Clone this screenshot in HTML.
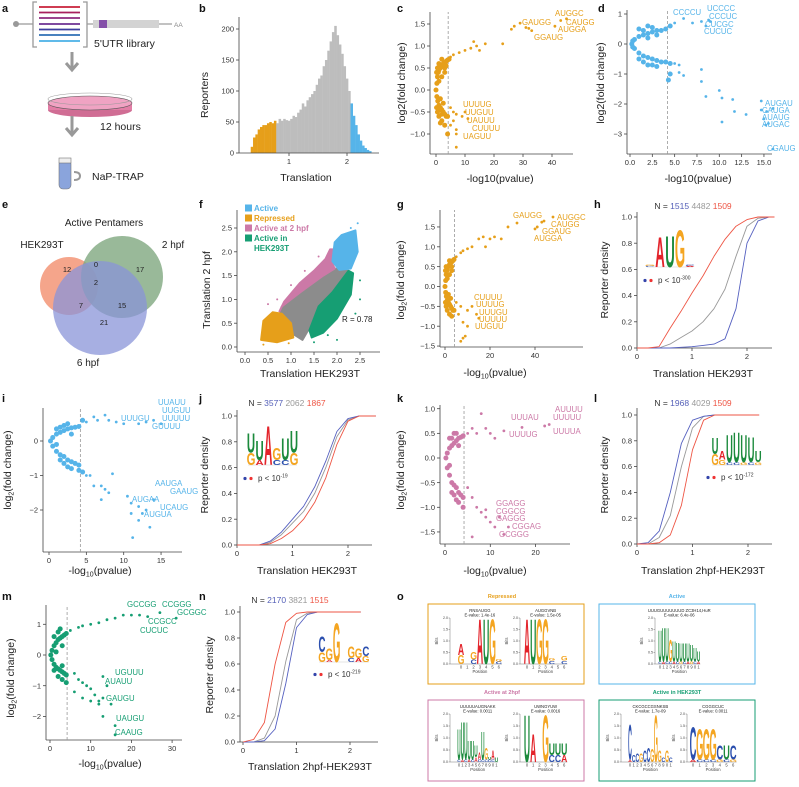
<!DOCTYPE html>
<html><head><meta charset="utf-8">
<style>
html,body{margin:0;padding:0;background:#fff;}
svg{display:block;font-family:"Liberation Sans",Arial,sans-serif;}
</style></head>
<body>
<svg id="fig" width="799" height="787" viewBox="0 0 799 787" xmlns="http://www.w3.org/2000/svg">
<!-- panel letters -->
<g font-weight="bold" font-size="11" fill="#111">
<text x="2" y="12">a</text>
<text x="199" y="12">b</text>
<text x="397" y="12">c</text>
<text x="598" y="12">d</text>
<text x="2" y="208">e</text>
<text x="199" y="208">f</text>
<text x="397" y="208">g</text>
<text x="594" y="208">h</text>
<text x="2" y="402">i</text>
<text x="199" y="402">j</text>
<text x="397" y="402">k</text>
<text x="594" y="402">l</text>
<text x="2" y="600">m</text>
<text x="199" y="600">n</text>
<text x="397" y="600">o</text>
</g>

<!-- panel a: schematic -->
<g>
  <line x1="16" y1="24" x2="33" y2="24" stroke="#999" stroke-width="1.2"/>
  <circle cx="16" cy="24" r="3" fill="#999"/>
  <path d="M37 2 H33 V47 H37 M83 2 H87 V47 H83" fill="none" stroke="#999" stroke-width="1.3"/>
  <g stroke-width="1.8">
    <line x1="39" y1="7" x2="80" y2="7" stroke="#c8203a"/>
    <line x1="39" y1="12.5" x2="80" y2="12.5" stroke="#a8205e"/>
    <line x1="39" y1="18" x2="80" y2="18" stroke="#8e2a7e"/>
    <line x1="39" y1="24" x2="80" y2="24" stroke="#6d3192"/>
    <line x1="39" y1="29.5" x2="80" y2="29.5" stroke="#3d3f9e"/>
    <line x1="39" y1="35" x2="80" y2="35" stroke="#2f6fb4"/>
    <line x1="39" y1="41" x2="80" y2="41" stroke="#4ab0e6"/>
  </g>
  <line x1="87" y1="24" x2="93" y2="24" stroke="#999" stroke-width="1.2"/>
  <rect x="93" y="20" width="66" height="8" fill="#d3d3d3"/>
  <rect x="99" y="20" width="8" height="8" fill="#8450a8"/>
  <line x1="159" y1="24" x2="172" y2="24" stroke="#999" stroke-width="1.2"/>
  <text x="174" y="27" font-size="6.5" fill="#888">AA</text>
  <text x="94" y="47" font-size="10.5" fill="#222">5'UTR library</text>
  <path d="M72 52 V68 M66 63 L72 70 L78 63" fill="none" stroke="#999" stroke-width="3"/>
  <g>
    <ellipse cx="90" cy="110" rx="42" ry="7" fill="#d06d94"/>
    <rect x="48" y="103" width="84" height="7" fill="#e27ea6"/>
    <ellipse cx="90" cy="103" rx="42" ry="7" fill="#f0a3c3" stroke="#555" stroke-width="0.6"/>
    <ellipse cx="90" cy="99" rx="42" ry="6" fill="none" stroke="#999" stroke-width="0.6"/>
  </g>
  <path d="M72 116 V133 M66 128 L72 135 L78 128" fill="none" stroke="#999" stroke-width="3"/>
  <text x="100" y="130" font-size="10.5" fill="#222">12 hours</text>
  <g>
    <rect x="59" y="160" width="12" height="29" rx="4" fill="#8aa4dc" stroke="#777" stroke-width="0.6"/>
    <rect x="59" y="158" width="12" height="5" fill="#eee" stroke="#777" stroke-width="0.6"/>
    <path d="M74 172 q6 0 6 4 q0 4 -6 4" fill="none" stroke="#999" stroke-width="2"/>
  </g>
  <text x="92" y="180" font-size="10.5" fill="#222">NaP-TRAP</text>
</g>

<!-- panel e: Venn -->
<g>
  <text x="104" y="226" font-size="10" text-anchor="middle" fill="#222">Active Pentamers</text>
  <text x="42" y="248" font-size="10" text-anchor="middle" fill="#222">HEK293T</text>
  <text x="173" y="248" font-size="10" text-anchor="middle" fill="#222">2 hpf</text>
  <text x="88" y="366" font-size="10" text-anchor="middle" fill="#222">6 hpf</text>
  <circle cx="69" cy="286" r="29" fill="#f28f6e" fill-opacity="0.8"/>
  <circle cx="122" cy="277" r="41" fill="#7fa87f" fill-opacity="0.8"/>
  <circle cx="100" cy="308" r="47" fill="#8a94d8" fill-opacity="0.75"/>
  <g font-size="7.5" fill="#222" text-anchor="middle">
    <text x="67" y="272">12</text><text x="96" y="267">0</text><text x="140" y="272">17</text>
    <text x="96" y="285">2</text><text x="81" y="308">7</text><text x="122" y="308">15</text><text x="104" y="325">21</text>
  </g>
</g>

<!-- panel o: motif boxes -->
<g font-size="5.5" font-weight="bold" text-anchor="middle">
  <text x="502" y="598" fill="#e69f1a">Repressed</text>
  <rect x="428" y="604" width="156" height="80" fill="none" stroke="#e69f1a" stroke-width="1"/>
  <text x="677" y="598" fill="#56b4e9">Active</text>
  <rect x="599" y="604" width="156" height="80" fill="none" stroke="#56b4e9" stroke-width="1"/>
  <text x="502" y="694" fill="#cc79a7">Active at 2hpf</text>
  <rect x="428" y="700" width="156" height="81" fill="none" stroke="#cc79a7" stroke-width="1"/>
  <text x="677" y="694" fill="#169e73">Active in HEK293T</text>
  <rect x="599" y="700" width="156" height="81" fill="none" stroke="#169e73" stroke-width="1"/>
</g>
</svg>

<script>
// ---------------- DATA ----------------
// histogram b (bin start 0.34, width 0.04)
const histStart = 0.34;
const histWidth = 0.04;
const histCounts = [10,25,30,38,42,45,45,48,50,48,52,48,55,52,55,53,52,55,60,58,65,70,80,75,85,90,95,100,110,120,125,140,150,165,180,195,205,190,175,160,140,120,100,80,60,45,30,20,12,8,5,3];
const histOrangeEnd = 0.76;
const histBlueStart = 2.05;

// volcano panels [x=-log10 p, y=log2 FC]
const cPoints = [[0,0],[0.3,0.15],[0.5,0.3],[0.8,0.4],[1,0.45],[1.5,0.5],[2,0.55],[2.5,0.6],[3,0.62],[3.5,0.65],[4,0.68],[4.5,0.7],[0.3,-0.15],[0.6,-0.25],[1,-0.35],[1.5,-0.4],[2,-0.45],[2.5,-0.5],[3,-0.55],[3.5,-0.6],[4,-0.6],[1,-0.6],[2,-0.7],[3,-0.8],[1.5,-0.75],[0.5,-0.5],[0.5,0.5],[1,0.2],[2,0.3],[3,0.4],[1.5,-0.2],[2.5,-0.3],[0.2,0.4],[0.2,-0.4],[1,0.6],[2,0.7],[3,0.5],[2,-0.55],[1,-0.45],[3.5,0.55],
[5,0.75],[6,0.8],[8,0.85],[10,0.9],[12,0.95],[14,1.0],[15,0.9],[17,1.05],[13,1.1],[23,1.05],[26,1.38],[27,1.45],[29,1.52],[31,1.42],[32,1.4],[33,1.35],[41,1.45],[43,1.58],[45,1.62],[5,-0.4],[6,-0.5],[7,-0.55],[9,-0.6],[11,-0.65],[10,-0.5],[6,-0.7],[7,-0.9],[7,-1.0],[4,-1.0],[7,-1.3],[5,-0.8]];
const dPoints = [[0.2,0],[0.5,0.15],[1,0.25],[1.5,0.3],[2,0.35],[2.5,0.4],[3,0.45],[3.5,0.45],[4,0.5],[0.5,-0.15],[1,-0.3],[1.5,-0.4],[2,-0.45],[2.5,-0.5],[3,-0.55],[3.5,-0.6],[4,-0.6],[1,0.5],[2,0.6],[1,-0.5],[2,-0.7],[3,-0.75],[0.3,0.1],[0.3,-0.1],[2,0.2],[3,0.3],[1.5,0.45],[2.5,0.55],[1.5,-0.6],[2.5,-0.7],
[4.5,0.6],[5,0.7],[6,0.85],[7,0.7],[8,0.75],[8.8,0.8],[9,0.75],[8.5,0.6],[4.5,-0.65],[5,-0.65],[5.5,-0.7],[4.5,-1.0],[4.3,-1.2],[5.5,-0.95],[6,-1.05],[8,-0.85],[8,-1.25],[8.5,-1.75],[10,-1.55],[10.3,-1.8],[11.5,-1.85],[11.7,-2.25],[13,-2.35],[10.3,-2.6],[14.7,-1.9],[14.7,-2.2],[15,-2.5],[15.3,-2.25],[15.5,-2.65],[16,-2.15],[15.2,-2.7],[16,-3.5]];
const gPoints = [[0,0],[0.3,0.15],[0.5,0.3],[0.8,0.4],[1,0.45],[1.5,0.5],[2,0.55],[2.5,0.6],[3,0.62],[3.5,0.65],[4,0.68],[0.3,-0.15],[0.6,-0.25],[1,-0.35],[1.5,-0.4],[2,-0.45],[2.5,-0.5],[3,-0.55],[3.5,-0.6],[4,-0.6],[1,-0.6],[2,-0.7],[3,-0.75],[0.5,-0.5],[0.5,0.5],[1,0.2],[2,0.3],[3,0.4],[1.5,-0.2],[2.5,-0.3],[0.2,0.4],[0.2,-0.4],[2,0.65],[3,0.5],
[5,0.75],[7,0.85],[8,0.9],[10,0.95],[12,1.0],[15,1.2],[17,1.25],[18,1.0],[20,1.2],[22,1.25],[25,1.2],[28,1.5],[32,1.6],[40,1.45],[41,1.5],[43,1.62],[44,1.65],[48,1.75],[5,-0.4],[7,-0.5],[10,-0.6],[12,-0.5],[14,-0.7],[15,-0.8],[8,-0.9],[10,-1.0],[9,-1.25],[8,-1.3],[7,-1.38],[6,-0.7]];
const iPoints = [[0.2,0],[0.5,0.1],[1,0.2],[1.5,0.25],[2,0.3],[2.5,0.35],[3,0.38],[3.5,0.4],[4,0.42],[0.5,-0.15],[1,-0.3],[1.5,-0.4],[2,-0.45],[2.5,-0.55],[3,-0.6],[3.5,-0.65],[4,-0.7],[1,0.35],[2,0.45],[2,-0.65],[3,-0.8],[4,-0.85],[3,0.2],[1,-0.1],[1.5,0.4],[2.5,0.5],[1.5,-0.55],[2.5,-0.75],
[4.5,0.6],[5,0.55],[6,0.7],[6.5,0.6],[7.5,0.75],[8,0.6],[9,0.55],[10,0.5],[12,0.5],[13,0.55],[14,0.6],[15,0.5],[4.5,-0.9],[5,-1.0],[5.5,-1.0],[6,-1.3],[7,-1.3],[7.5,-1.4],[8,-1.5],[8.5,-0.95],[7,-1.7],[10.5,-1.6],[11,-1.8],[12,-1.9],[12.5,-2.1],[13,-2.0],[12,-2.3],[13.5,-2.5],[14,-1.7],[11.2,-2.8],[11,-2.1]];
const kPoints = [[0.2,0],[0.5,0.1],[1,0.2],[1.5,0.25],[2,0.3],[2.5,0.35],[3,0.4],[3.5,0.42],[4,0.45],[0.5,-0.2],[1,-0.35],[1.5,-0.5],[2,-0.55],[2.5,-0.6],[3,-0.7],[3.5,-0.75],[4,-0.8],[1,0.4],[2,0.5],[2,-0.75],[3,-0.9],[4,-1.0],[3,0.25],[1,-0.15],[1.5,-0.7],[2.5,-0.85],[1.5,0.4],[2.5,0.5],
[5,0.5],[6,0.6],[7,0.5],[8,0.9],[9,0.6],[10,0.5],[11,0.4],[13,0.55],[17,0.62],[22,0.65],[23,0.68],[5,-0.6],[6,-0.8],[7,-1.0],[8,-1.1],[9,-1.2],[10,-1.3],[11,-1.4],[12,-1.2],[14,-1.4],[13,-1.55],[6,-1.6],[9,-1.05]];
const mPoints = [[0.2,0],[0.5,0.15],[1,0.3],[1.5,0.4],[2,0.5],[2.5,0.55],[3,0.6],[3.5,0.65],[4,0.7],[0.5,-0.15],[1,-0.3],[1.5,-0.4],[2,-0.45],[2.5,-0.5],[3,-0.55],[3.5,-0.6],[4,-0.65],[1,0.6],[2,0.75],[2,-0.7],[3,-0.8],[4,-0.9],[3,0.3],[1,-0.5],[2.5,0.85],[1.5,0.1],[3,-0.35],
[5,0.8],[7,0.9],[8,0.95],[10,1.0],[12,1.05],[14,1.15],[16,1.2],[18,1.3],[20,1.3],[22,1.3],[24,1.25],[27,1.38],[31,1.2],[6,-0.6],[7,-0.8],[8,-0.9],[9,-1.0],[10,-1.1],[11,-1.3],[12,-1.5],[13,-1.4],[14,-1.0],[6,-1.2],[8,-1.4],[10,-1.5],[13,-0.7],[13,-2.0],[16,-2.3],[16,-2.6],[12,-1.6],[15,-1.6]];

// scatter f regions (translation HEK293T, translation 2 hpf)
const fGray = [[0.75,0.6],[0.8,0.85],[1.2,1.15],[1.7,1.5],[1.95,1.65],[2.25,1.6],[1.9,1.15],[1.6,0.85],[1.4,0.4],[1.25,0.15],[1.0,0.3],[0.9,0.45]];
const fPink = [[0.75,0.75],[0.85,0.95],[1.2,1.35],[1.5,1.6],[1.75,1.85],[1.85,2.05],[1.95,2.05],[1.9,1.75],[1.95,1.65],[1.7,1.5],[1.2,1.15],[0.8,0.85]];
const fBlue = [[1.9,1.8],[1.95,2.2],[2.1,2.35],[2.4,2.45],[2.45,2.0],[2.3,1.65],[2.05,1.62]];
const fGreen = [[1.4,0.35],[1.6,0.85],[1.9,1.15],[2.25,1.6],[2.35,1.55],[2.3,1.1],[2.0,0.6],[1.7,0.3],[1.45,0.2]];
const fOrange = [[0.35,0.15],[0.4,0.55],[0.6,0.73],[0.8,0.7],[1.0,0.5],[1.05,0.2],[0.7,0.1]];
const fExtraPoints = [[0.5,0.9],[0.7,1.0],[1.0,1.3],[1.3,1.6],[1.6,1.9],[2.3,2.5],[2.45,2.6],[2.5,1.4],[2.5,1.0],[2.4,0.7],[2.0,0.15],[1.8,0.25],[1.5,0.1],[0.4,0.05],[0.95,0.08]];

// CDF panels
const cdfXh = [0,0.2,0.4,0.6,0.8,1.0,1.2,1.4,1.6,1.8,2.0,2.2,2.4,2.5];
const hRed  = [0,0,0.01,0.15,0.28,0.42,0.55,0.7,0.83,0.93,0.98,1,1,1];
const hGray = [0,0,0,0.03,0.08,0.13,0.2,0.3,0.45,0.7,0.93,0.99,1,1];
const hBlue = [0,0,0,0,0.005,0.01,0.02,0.03,0.07,0.3,0.8,0.97,1,1];
const jBlue = [0,0,0,0.03,0.1,0.2,0.3,0.45,0.65,0.88,0.98,1,1,1];
const jGray = [0,0,0,0.02,0.08,0.17,0.26,0.4,0.6,0.84,0.97,1,1,1];
const jRed  = [0,0,0,0.01,0.05,0.11,0.2,0.33,0.52,0.78,0.96,1,1,1];
const cdfXl = [0,0.2,0.4,0.6,0.8,1.0,1.2,1.4,1.6,2.2];
const lBlue = [0,0.01,0.1,0.4,0.78,0.96,0.99,1,1,1];
const lGray = [0,0,0.05,0.22,0.6,0.9,0.99,1,1,1];
const lRed  = [0,0,0.01,0.07,0.3,0.73,0.96,1,1,1];
const nRed  = [0,0.02,0.15,0.6,0.92,0.99,1,1,1,1];
const nGray = [0,0,0.03,0.2,0.62,0.94,0.99,1,1,1];
const nBlue = [0,0,0.01,0.1,0.45,0.88,0.98,1,1,1];

// logos: columns of [letter, bits] bottom-up
const hLogo = [[["C",0.05],["G",0.05]],[["A",1.6]],[["U",1.7]],[["G",2.0]],[["A",0.05],["C",0.05]]];
const jLogo = [[["G",0.5],["U",0.8]],[["A",0.2],["U",0.8]],[["A",1.6]],[["C",0.2],["G",0.5]],[["C",0.2],["U",0.9]],[["G",0.5],["U",0.9]]];
const lLogo = [[["G",0.4],["U",0.6]],[["G",0.2],["A",0.3]],[["C",0.1],["U",1.0]],[["C",0.1],["U",1.1]],[["G",0.1],["U",1.0]],[["C",0.1],["U",0.9]],[["G",0.1],["U",0.4]]];
const nLogo = [[["G",0.5],["C",0.8]],[["A",0.1],["G",0.6]],[["G",2.0]],[],[["C",0.2],["G",0.6]],[["A",0.2],["G",0.5]],[["G",0.3],["C",0.5]]];
const rep1Cols = [[["G",0.4],["A",0.5]],[],[["C",0.2],["G",0.35]],[["A",2.0]],[["U",2.0]],[["G",2.0]],[["C",0.1],["G",0.1]]];
const rep2Cols = [[["A",2.0]],[["U",2.0]],[["G",2.0]],[["G",2.0]],[["C",0.15],["G",0.1]],[],[["C",0.15],["G",0.2]]];
const actCols = [[["C",0.1],["U",1.4]],[["A",0.1],["U",1.5]],[["C",0.1],["U",1.5]],[["C",0.1],["G",1.0]],[["A",0.1],["U",0.9]],[["C",0.1],["U",0.85]],[["G",0.1],["U",0.8]],[["C",0.1],["U",0.8]],[["A",0.1],["U",0.8]],[["G",0.1],["U",0.75]],[["C",0.1],["U",0.6]],[["A",0.1],["U",0.45]]];
const hpf1Cols = [[["C",0.1],["U",1.3]],[["A",0.1],["U",1.6]],[["C",0.1],["U",1.6]],[["A",0.1],["U",0.8]],[["C",0.1],["U",0.8]],[["A",0.2],["U",0.5]],[["C",0.1],["A",0.3]],[["C",0.1],["U",1.2]],[["C",0.1],["G",0.5]],[["C",0.1],["U",0.1]],[["C",0.1],["A",0.4]],[["U",0.2]]];
const hpf2Cols = [[["U",2.0]],[["A",1.2]],[],[["G",2.0]],[["C",0.3],["U",0.5]],[["C",0.3],["U",0.5]],[["A",0.3],["U",0.5]]];
const hek1Cols = [[["A",0.1],["C",1.5]],[["C",0.3]],[["C",0.35]],[["G",0.35]],[["C",0.5]],[["C",0.6]],[["G",0.55]],[["G",2.0]],[["G",0.5]],[["C",0.2]],[["G",0.5]],[["C",0.2]]];
const hek2Cols = [[["A",0.1],["C",1.4]],[["C",0.1],["G",1.3]],[["C",0.1],["G",1.3]],[["C",0.1],["G",1.3]],[["G",0.1],["C",0.6]],[["C",0.1],["U",0.6]],[["G",0.1],["C",0.6]]];

// ---------------- DRAWING ----------------
const NS = "http://www.w3.org/2000/svg";
const svg = document.getElementById('fig');
const COL = {A:"#e3242b", U:"#1b8a3c", G:"#f4a521", C:"#2b4fae"};
const ORANGE="#e69f1a", BLUE="#56b4e9", PINK="#cc79a7", GREEN="#169e73";

function el(tag, attrs, parent){
  const e = document.createElementNS(NS, tag);
  for (const k in attrs) e.setAttribute(k, attrs[k]);
  (parent||svg).appendChild(e);
  return e;
}
function txt(str, attrs, parent){
  const t = el('text', attrs, parent);
  t.textContent = str;
  return t;
}
function group(name){
  const g = el('g', {});
  
  
  return g;
}

function axes(g, c){
  const xa = el('line', {x1:c.x0, y1:c.y0, x2:c.x1, y2:c.y0, stroke:'#444', 'stroke-width':0.8}, g);
  
  
  const ya = el('line', {x1:c.x0, y1:c.y0, x2:c.x0, y2:c.y1, stroke:'#444', 'stroke-width':0.8}, g);
  
  
  c.xticks.forEach((v,i)=>{
    const X = c.sx(v);
    el('line', {x1:X, y1:c.y0, x2:X, y2:c.y0+3, stroke:'#444', 'stroke-width':0.8}, g);
    const t = txt(c.xlabels[i], {x:X, y:c.y0+11, 'font-size':7.5, 'text-anchor':'middle', fill:'#333'}, g);
    
    
  });
  c.yticks.forEach((v,i)=>{
    const Y = c.sy(v);
    el('line', {x1:c.x0-3, y1:Y, x2:c.x0, y2:Y, stroke:'#444', 'stroke-width':0.8}, g);
    const t = txt(c.ylabels[i], {x:c.x0-5, y:Y+2.6, 'font-size':7.5, 'text-anchor':'end', fill:'#333'}, g);
    
    
  });
  const xt = el('text', {x:c.xtx, y:c.xty, 'font-size':10.5, 'text-anchor':'middle', fill:'#222'}, g);
  xt.innerHTML = c.xtitle;
  
  
  const yt = el('text', {transform:`translate(${c.ytx},${c.yty}) rotate(-90)`, 'font-size':10.5, 'text-anchor':'middle', fill:'#222'}, g);
  yt.innerHTML = c.ytitle;
  
  
}
const fmt1 = v => v.toFixed(1).replace('-', '\u2212');
const fmt0 = v => String(v).replace('-', '\u2212');
const LOG2 = 'log<tspan font-size="7" dy="2.5">2</tspan><tspan dy="-2.5">(fold change)</tspan>';
const LOG10 = '-log<tspan font-size="7" dy="2.5">10</tspan><tspan dy="-2.5">(pvalue)</tspan>';

function volcano(name, pts, color, c, labels){
  const g = group(name);
  axes(g, c);
  const d = el('line', {x1:c.sx(4.2), x2:c.sx(4.2), y1:c.y0, y2:c.y1, stroke:'#999', 'stroke-width':0.8, 'stroke-dasharray':'3,2'}, g);
  
  
  pts.forEach(p=>{
    const big = p[0] < 4.6;
    const dot = el('circle', {cx:c.sx(p[0]), cy:c.sy(p[1]), r: big ? 2.5 : 1.4, fill:color}, g);
    
    
  });
  labels.forEach(l=>{
    const t = txt(l[0], {x:l[1], y:l[2], 'font-size':7.8, fill:color}, g);
    
    
  });
}

function letter(g, cx, base, w, h, ch){
  if (h < 0.4) return;
  const t = txt(ch, {'font-size':10, 'font-weight':'bold', 'text-anchor':'middle', fill:COL[ch],
    transform:`translate(${cx},${base}) scale(${(w/7.2).toFixed(3)},${(h/7.2).toFixed(3)})`}, g);
  
  
}
function logo(g, x0, step, base, ppb, cols, wfac){
  cols.forEach((col,i)=>{
    let b = base;
    col.forEach(([ch,bits])=>{
      const h = bits*ppb;
      letter(g, x0+i*step, b, step*wfac, h, ch);
      b -= h;
    });
  });
}

function cdf(name, xs, series, c, nvals, nx, ny, logoCols, logoPos, pText, px, py){
  const g = group(name);
  axes(g, c);
  series.forEach(([ys,color,sname])=>{
    const d = xs.map((x,i)=>(i?'L':'M')+c.sx(x).toFixed(1)+' '+c.sy(ys[i]).toFixed(1)).join(' ');
    const p = el('path', {d, fill:'none', stroke:color, 'stroke-width':0.9, 'stroke-linejoin':'round'}, g);
    
    
  });
  const n = el('text', {x:nx, y:ny, 'font-size':8.5, 'text-anchor':'middle', fill:'#333'}, g);
  n.innerHTML = `N = <tspan fill="#5560b8">${nvals[0]}</tspan> <tspan fill="#999">${nvals[1]}</tspan> <tspan fill="#ee5544">${nvals[2]}</tspan>`;
  
  
  const lg = group(name + '-logo');
  g.appendChild(lg);
  el('line', {x1:logoPos[0]-3, x2:logoPos[0]+logoPos[1]*(logoCols.length-1)+3, y1:logoPos[2], y2:logoPos[2], stroke:'#ccc', 'stroke-width':0.6}, lg);
  logo(lg, logoPos[0], logoPos[1], logoPos[2], logoPos[3], logoCols, 0.95);
  const b = el('circle', {cx:px, cy:py-2.5, r:1.6, fill:'#3344aa'}, g);
  
  
  const r = el('circle', {cx:px+6, cy:py-2.5, r:1.6, fill:'#ee3333'}, g);
  
  
  const pt = el('text', {x:px+13, y:py, 'font-size':8, fill:'#333'}, g);
  pt.innerHTML = `p &lt; 10<tspan font-size="5" dy="-3.5">${pText}</tspan>`;
  
  
}

// ---- panel b: histogram
(function(){
  const g = group('panel-b-histogram');
  const sx = v=>231+v*58, sy = v=>153-v*0.62;
  histCounts.forEach((cnt,i)=>{
    const x = histStart + i*histWidth;
    const color = x < histOrangeEnd ? ORANGE : (x >= histBlueStart ? BLUE : '#bdbdbd');
    const bar = el('rect', {x:sx(x), y:sy(cnt), width:histWidth*58+0.2, height:cnt*0.62, fill:color}, g);
    
    
  });
  axes(g, {sx, sy, x0:239, x1:379, y0:153, y1:17, xticks:[1,2], xlabels:['1','2'], yticks:[0,50,100,150,200], ylabels:['0','50','100','150','200'],
    xtitle:'Translation', xtx:306, xty:181, ytitle:'Reporters', ytx:208, yty:95});
})();

// ---- volcano panels
volcano('panel-c-volcano', cPoints, ORANGE, {sx:v=>436+v*2.9, sy:v=>90-v*44, x0:430, x1:573, y0:154, y1:12,
  xticks:[0,10,20,30,40], xlabels:['0','10','20','30','40'], yticks:[-1,-0.5,0,0.5,1,1.5], ylabels:[-1,-0.5,0,0.5,1,1.5].map(fmt1),
  xtitle:'-log10(pvalue)', xtx:500, xty:182, ytitle:'log2(fold change)', ytx:405, yty:83},
  [['AUGGC',555,16],['GAUGG',522,25],['CAUGG',566,25],['AUGGA',558,32],['GGAUG',534,40],['UUUUG',463,107],['UUGUU',465,115],['UAUUU',467,123],['CUUUU',472,131],['UAGUU',463,139]]);
volcano('panel-d-volcano', dPoints, BLUE, {sx:v=>630+v*8.93, sy:v=>44-v*30, x0:627, x1:772, y0:154, y1:10,
  xticks:[0,2.5,5,7.5,10,12.5,15], xlabels:[0,2.5,5,7.5,10,12.5,15].map(fmt1), yticks:[-3,-2,-1,0,1], ylabels:[-3,-2,-1,0,1].map(fmt0),
  xtitle:'-log10(pvalue)', xtx:698, xty:182, ytitle:'log2(fold change)', ytx:604, yty:83},
  [['CCCCU',673,15],['UCCCC',707,11],['CCCUC',709,19],['CUCGC',705,27],['CUCUC',704,34],['AUGAU',765,106],['CAUGA',762,113],['AUAUG',762,120],['AUGAC',762,127],['CGAUG',767,151]]);
volcano('panel-g-volcano', gPoints, ORANGE, {sx:v=>445+v*2.25, sy:v=>286.5-v*39.7, x0:440, x1:583, y0:347, y1:210,
  xticks:[0,20,40], xlabels:['0','20','40'], yticks:[-1.5,-1,-0.5,0,0.5,1,1.5], ylabels:[-1.5,-1,-0.5,0,0.5,1,1.5].map(fmt1),
  xtitle:LOG10, xtx:495, xty:376, ytitle:LOG2, ytx:404, yty:280},
  [['GAUGG',513,218],['AUGGC',557,220],['CAUGG',551,227],['GGAUG',542,234],['AUGGA',534,241],['CUUUU',474,300],['UUUUG',476,307],['UUUGU',479,315],['UUUUU',479,322],['UUGUU',475,329]]);
volcano('panel-i-volcano', iPoints, BLUE, {sx:v=>49+v*7.47, sy:v=>441-v*34.5, x0:43, x1:182, y0:552, y1:408,
  xticks:[0,5,10,15], xlabels:['0','5','10','15'], yticks:[-2,-1,0], ylabels:[-2,-1,0].map(fmt0),
  xtitle:LOG10, xtx:100, xty:574, ytitle:LOG2, ytx:11, yty:470},
  [['UUAUU',158,405],['UUGUU',162,413],['UUUUU',162,421],['GUUUU',152,429],['UUUGU',121,421],['AAUGA',155,486],['GAAUG',170,494],['AUGAA',132,502],['UCAUG',160,510],['AUGUA',144,517]]);
volcano('panel-k-volcano', kPoints, PINK, {sx:v=>445+v*4.53, sy:v=>458-v*49.3, x0:440, x1:570, y0:544, y1:405,
  xticks:[0,10,20], xlabels:['0','10','20'], yticks:[-1.5,-1,-0.5,0,0.5,1], ylabels:[-1.5,-1,-0.5,0,0.5,1].map(fmt1),
  xtitle:LOG10, xtx:495, xty:574, ytitle:LOG2, ytx:404, yty:470},
  [['AUUUU',555,412],['UUUAU',511,420],['UUUUU',553,420],['UUUUG',509,437],['UUUUA',553,434],['GGAGG',496,506],['CGGCG',496,514],['GAGGG',496,521],['CGGAG',512,529],['GCGGG',499,537]]);
volcano('panel-m-volcano', mPoints, GREEN, {sx:v=>50+v*4.07, sy:v=>655-v*30.7, x0:46, x1:182, y0:740, y1:605,
  xticks:[0,10,20,30], xlabels:['0','10','20','30'], yticks:[-2,-1,0,1], ylabels:[-2,-1,0,1].map(fmt0),
  xtitle:LOG10, xtx:110, xty:767, ytitle:LOG2, ytx:14, yty:678},
  [['GCCGG',127,607],['CCGGG',162,607],['GCGGC',177,615],['CCGCC',148,624],['CUCUC',140,633],['UGUUU',115,675],['AUAUU',105,684],['GAUGU',106,701],['UAUGU',116,721],['CAAUG',115,735]]);

// ---- panel f: scatter
(function(){
  const g = group('panel-f-scatter');
  const sx = v=>245+v*46, sy = v=>347-v*47.6;
  [[fGray,'#8c8c8c','region-other'],[fPink,PINK,'region-active-2hpf'],[fGreen,GREEN,'region-active-hek'],[fBlue,BLUE,'region-active'],[fOrange,ORANGE,'region-repressed']].forEach(([pts,color,nm])=>{
    const poly = el('polygon', {points:pts.map(p=>sx(p[0]).toFixed(1)+','+sy(p[1]).toFixed(1)).join(' '), fill:color, stroke:color, 'stroke-width':2, 'stroke-linejoin':'round'}, g);
    
    
  });
  fExtraPoints.forEach(p=>{
    const color = p[1] > p[0]*0.85+0.2 ? (p[0]>2.2?BLUE:PINK) : (p[1]<0.2&&p[0]<1.1?ORANGE:GREEN);
    const dot = el('circle', {cx:sx(p[0]), cy:sy(p[1]), r:1, fill:color}, g);
    
    
  });
  axes(g, {sx, sy, x0:237, x1:380, y0:352, y1:210, xticks:[0,0.5,1,1.5,2,2.5], xlabels:[0,0.5,1,1.5,2,2.5].map(fmt1),
    yticks:[0,0.5,1,1.5,2,2.5], ylabels:[0,0.5,1,1.5,2,2.5].map(fmt1), xtitle:'Translation HEK293T', xtx:310, xty:377, ytitle:'Translation 2 hpf', ytx:210, yty:290});
  const lg = group('panel-f-legend');
  g.appendChild(lg);
  [['Active',BLUE,211],['Repressed',ORANGE,221],['Active at 2 hpf',PINK,231],['Active in',GREEN,241]].forEach(([s,c,y])=>{
    const sq = el('rect', {x:245, y:y-6.5, width:7, height:7, fill:c}, lg);
    
    
    const t = txt(s, {x:254, y:y, 'font-size':8, 'font-weight':'bold', fill:c}, lg);
    
    
  });
  const t2 = txt('HEK293T', {x:254, y:251, 'font-size':8, 'font-weight':'bold', fill:GREEN}, lg);
  
  
  const rt = txt('R = 0.78', {x:342, y:322, 'font-size':8, fill:'#222'}, g);
  
  
})();

// ---- CDF panels
const Y01 = [0,0.2,0.4,0.6,0.8,1], Y01L = Y01.map(fmt1);
cdf('panel-h-cdf', cdfXh, [[hGray,'#999','cdf-gray'],[hBlue,'#5560c0','cdf-blue'],[hRed,'#ee5544','cdf-red']],
  {sx:v=>637+v*55, sy:v=>348-v*131, x0:637, x1:772, y0:348, y1:212, xticks:[0,1,2], xlabels:['0','1','2'], yticks:Y01, ylabels:Y01L,
   xtitle:'Translation HEK293T', xtx:703, xty:377, ytitle:'Reporter density', ytx:608, yty:280},
  ['1515','4482','1509'], 693, 209, hLogo, [650,10,267,19], '-300', 645, 283);
cdf('panel-j-cdf', cdfXh, [[jGray,'#999','cdf-gray'],[jBlue,'#5560c0','cdf-blue'],[jRed,'#ee5544','cdf-red']],
  {sx:v=>237+v*55.5, sy:v=>545-v*129, x0:237, x1:372, y0:545, y1:410, xticks:[0,1,2], xlabels:['0','1','2'], yticks:Y01, ylabels:Y01L,
   xtitle:'Translation HEK293T', xtx:307, xty:574, ytitle:'Reporter density', ytx:208, yty:475},
  ['3577','2062','1867'], 287, 406, jLogo, [251,8.6,465,25], '-19', 245, 481);
cdf('panel-l-cdf', cdfXl, [[lGray,'#999','cdf-gray'],[lBlue,'#5560c0','cdf-blue'],[lRed,'#ee5544','cdf-red']],
  {sx:v=>637+v*55.5, sy:v=>544-v*129, x0:637, x1:772, y0:544, y1:408, xticks:[0,1,2], xlabels:['0','1','2'], yticks:Y01, ylabels:Y01L,
   xtitle:'Translation 2hpf-HEK293T', xtx:703, xty:574, ytitle:'Reporter density', ytx:608, yty:475},
  ['1968','4029','1509'], 693, 406, lLogo, [715,7.2,465,28], '-172', 708, 480);
cdf('panel-n-cdf', cdfXl, [[nGray,'#999','cdf-gray'],[nBlue,'#5560c0','cdf-blue'],[nRed,'#ee5544','cdf-red']],
  {sx:v=>243+v*53.5, sy:v=>742-v*130, x0:240, x1:378, y0:742, y1:606, xticks:[0,1,2], xlabels:['0','1','2'], yticks:Y01, ylabels:Y01L,
   xtitle:'Translation 2hpf-HEK293T', xtx:310, xty:770, ytitle:'Reporter density', ytx:213, yty:675},
  ['2170','3821','1515'], 290, 603, nLogo, [322,7.3,662,20], '-219', 315, 677);

// ---- panel o mini logos
function miniLogo(name, axX, x0, step, base, top, cols, title, evalue){
  const g = group(name);
  const ppb = (base-top)/2;
  [0,0.5,1,1.5,2].forEach(v=>{
    const Y = base - v*ppb;
    el('line', {x1:axX-1.5, x2:axX, y1:Y, y2:Y, stroke:'#555', 'stroke-width':0.4}, g);
    txt(v.toFixed(1), {x:axX-2, y:Y+1.2, 'font-size':3.6, 'text-anchor':'end', fill:'#444'}, g);
  });
  el('line', {x1:axX, x2:axX, y1:base, y2:top, stroke:'#555', 'stroke-width':0.4}, g);
  el('line', {x1:axX, x2:x0+step*(cols.length-1)+step/2, y1:base, y2:base, stroke:'#555', 'stroke-width':0.4}, g);
  cols.forEach((c,i)=>txt(String(i < 10 ? i : i-10), {x:x0+i*step, y:base+4.5, 'font-size':4.2, 'text-anchor':'middle', fill:'#444'}, g));
  txt('Position', {x:x0+step*(cols.length-1)/2, y:base+9, 'font-size':4.2, 'text-anchor':'middle', fill:'#444'}, g);
  txt('Bits', {transform:`translate(${axX-12},${(base+top)/2}) rotate(-90)`, 'font-size':4.2, 'text-anchor':'middle', fill:'#444'}, g);
  const t = txt(title, {x:x0+step*(cols.length-1)/2, y:top-6, 'font-size':4.2, 'text-anchor':'middle', fill:'#222'}, g);
  
  
  txt('E-value: '+evalue, {x:x0+step*(cols.length-1)/2, y:top-1.5, 'font-size':4.2, 'text-anchor':'middle', fill:'#222'}, g);
  logo(g, x0, step, base, ppb, cols, 1.0);
}
miniLogo('logo-repressed-1', 450, 461, 6.3, 664, 618, rep1Cols, 'RNSAUGG', '1.4e-16');
miniLogo('logo-repressed-2', 520, 527, 6.2, 664, 618, rep2Cols, 'AUGGVNB', '1.5e-05');
miniLogo('logo-active-1', 655, 660, 3.5, 664, 618, actCols, 'UUUGUUUUUUUD ZC3H14,HuR', '6.4e-06');
miniLogo('logo-2hpf-1', 450, 459, 3.4, 762, 714, hpf1Cols, 'UUUUUAUGNAKK', '0.0011');
miniLogo('logo-2hpf-2', 520, 527, 6.2, 762, 714, hpf2Cols, 'UWNGYUW', '0.0016');
miniLogo('logo-hek-1', 621, 630, 3.7, 762, 714, hek1Cols, 'CKCGCCGSNKSB', '1.7e-09');
miniLogo('logo-hek-2', 687, 693, 6.7, 762, 714, hek2Cols, 'CGGGCUC', '0.0011');
</script>
</body></html>
